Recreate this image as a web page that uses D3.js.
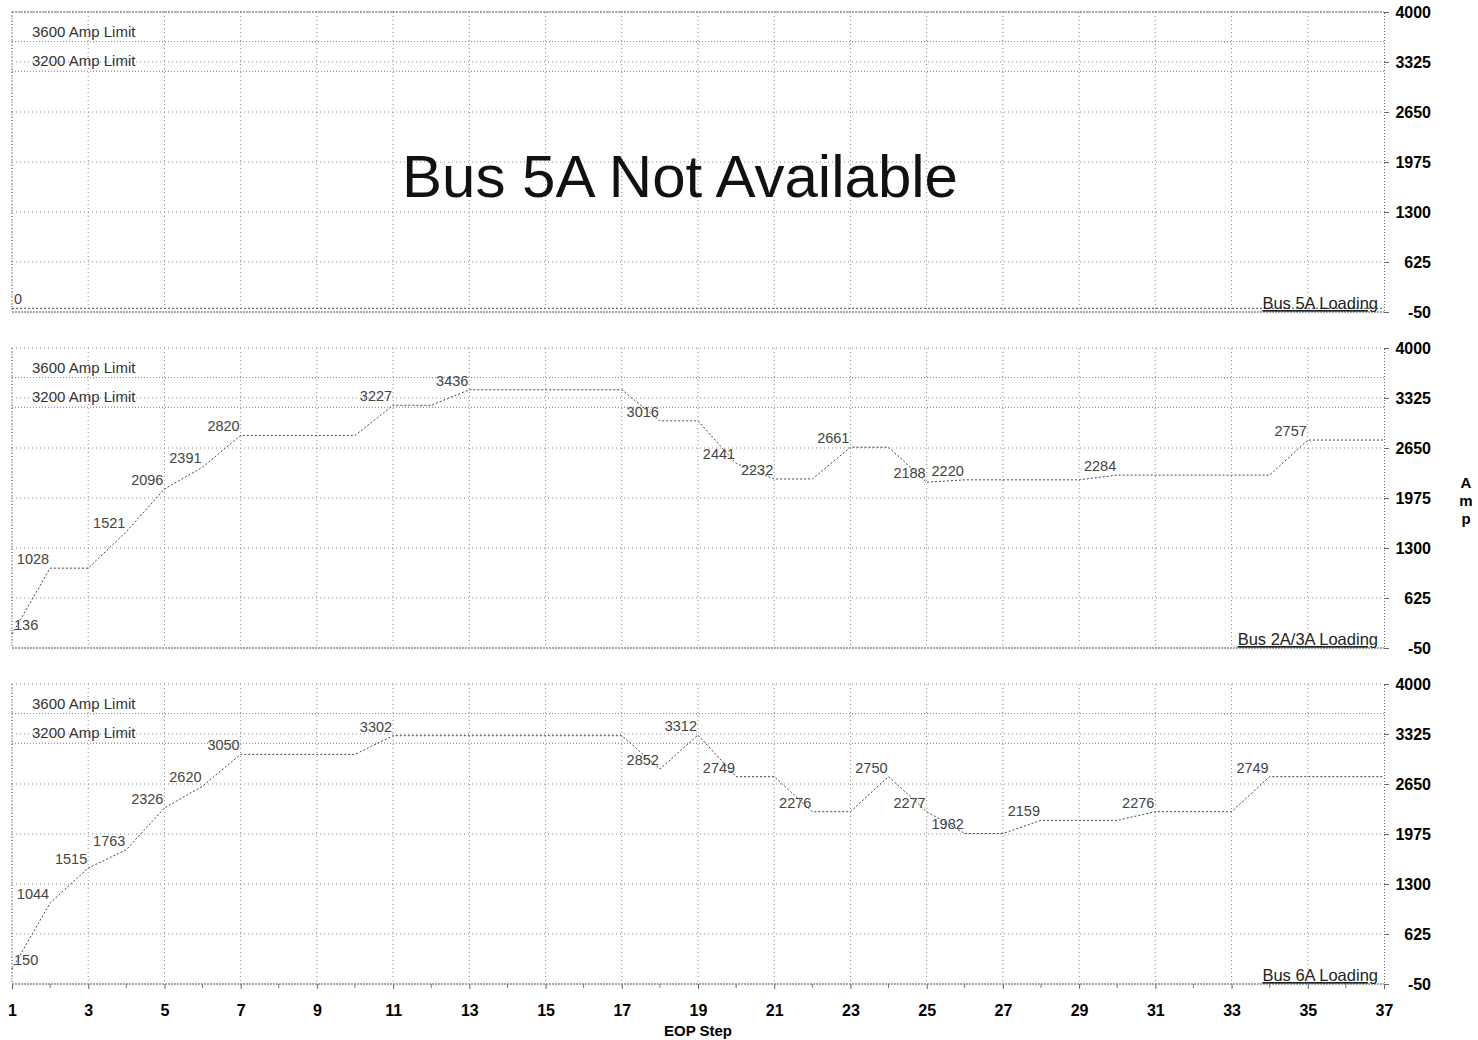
<!DOCTYPE html>
<html>
<head>
<meta charset="utf-8">
<script src="https://cdn.jsdelivr.net/npm/d3@7"></script>
<style>
  html, body { margin: 0; padding: 0; background: #fff; }
  svg { display: block; font-family: "Liberation Sans", Arial, sans-serif; }
</style>
</head>
<body>
<svg id="chart" width="1478" height="1040"></svg>
<script>
// ---------- data ----------
const steps = [1,2,3,4,5,6,7,8,9,10,11,12,13,14,15,16,17,18,19,20,21,22,23,24,25,26,27,28,29,30,31,32,33,34,35,36,37];
const bus5A = [0,0,0,0,0,0,0,0,0,0,0,0,0,0,0,0,0,0,0,0,0,0,0,0,0,0,0,0,0,0,0,0,0,0,0,0,0];
const bus2A3A = [136,1028,1028,1521,2096,2391,2820,2820,2820,2820,3227,3227,3436,3436,3436,3436,3436,3016,3016,2441,2232,2232,2661,2661,2188,2220,2220,2220,2220,2284,2284,2284,2284,2284,2757,2757,2757];
const bus6A = [150,1044,1515,1763,2326,2620,3050,3050,3050,3050,3302,3302,3302,3302,3302,3302,3302,2852,3312,2749,2749,2276,2276,2750,2277,1982,1982,2159,2159,2159,2276,2276,2276,2749,2749,2749,2749];
const yTicks = [-50, 625, 1300, 1975, 2650, 3325, 4000];
const xTicks = [1,3,5,7,9,11,13,15,17,19,21,23,25,27,29,31,33,35,37];
const limits = [3600, 3200];
const limitLabels = ["3600 Amp Limit", "3200 Amp Limit"];
const panelNames = ["Bus 5A Loading", "Bus 2A/3A Loading", "Bus 6A Loading"];
const panelSeries = [bus5A, bus2A3A, bus6A];
const notAvailable = "Bus 5A Not Available";
const xTitle = "EOP Step";
const yTitle = "Amp";

// ---------- layout ----------
const svg = d3.select("#chart");
const left = 12, right = 1384;
const panelTops = [12, 348, 684];
const panelH = 300;
const FF = "'Liberation Sans', Arial, sans-serif";

const x = d3.scaleLinear().domain([1, 37]).range([left, right]);

const gridColor = "#8a8a8a";

panelSeries.forEach((series, pi) => {
  const top = panelTops[pi];
  const y = d3.scaleLinear().domain([-50, 4000]).range([top + panelH, top]);
  const g = svg.append("g");

  // horizontal gridlines
  g.selectAll(".hg").data(yTicks.filter(v => v !== -50)).join("line")
    .attr("x1", left).attr("x2", right)
    .attr("y1", d => y(d)).attr("y2", d => y(d))
    .attr("stroke", gridColor).attr("stroke-width", 1)
    .attr("stroke-dasharray", "1,3");

  // vertical gridlines
  g.selectAll(".vg").data(xTicks.filter(v => v !== 37)).join("line")
    .attr("x1", d => x(d)).attr("x2", d => x(d))
    .attr("y1", top).attr("y2", top + panelH)
    .attr("stroke", gridColor).attr("stroke-width", 1)
    .attr("stroke-dasharray", "1,3");

  // limit lines
  g.selectAll(".lim").data(limits).join("line")
    .attr("x1", left).attr("x2", right)
    .attr("y1", d => y(d)).attr("y2", d => y(d))
    .attr("stroke", "#777").attr("stroke-width", 1)
    .attr("stroke-dasharray", "1,2");

  g.selectAll(".limtxt").data(limits).join("text")
    .attr("x", 32).attr("y", d => y(d) - 5)
    .attr("font-size", 15).attr("fill", "#333")
    .text((d, i) => limitLabels[i]);

  // baseline (-50) darker
  g.append("line")
    .attr("x1", left).attr("x2", right)
    .attr("y1", y(-50)).attr("y2", y(-50))
    .attr("stroke", "#555").attr("stroke-width", 1)
    .attr("stroke-dasharray", "2,1");

  // right axis
  const axis = d3.axisRight(y).tickValues(yTicks).tickSize(5).tickPadding(4).tickFormat(d => String(d));
  const ag = g.append("g").attr("transform", `translate(${right},0)`).call(axis);
  ag.select(".domain").attr("stroke", "#666").attr("stroke-dasharray", "1,2");
  ag.selectAll(".tick line").attr("stroke", "#666");
  ag.selectAll(".tick text")
    .attr("text-anchor", "end").attr("x", 47)
    .attr("font-size", 16).attr("font-weight", "bold").attr("fill", "#000")
    .attr("font-family", FF);

  // left border
  g.append("line")
    .attr("x1", left).attr("x2", left).attr("y1", top).attr("y2", top + panelH)
    .attr("stroke", "#777").attr("stroke-dasharray", "1,2");

  // data line
  const pts = steps.map((s, i) => [s, series[i]]);
  const line = d3.line().x(d => x(d[0])).y(d => y(d[1]));
  g.append("path").datum(pts)
    .attr("d", line).attr("fill", "none")
    .attr("stroke", "#444").attr("stroke-width", 1)
    .attr("stroke-dasharray", "2,2");

  // value labels where value changes
  const labelled = pts.filter((d, i) => i === 0 || d[1] !== series[i - 1]);
  g.selectAll(".vl").data(labelled).join("text")
    .attr("x", d => d[0] === 1 ? x(d[0]) + 2 : x(d[0]) - 1)
    .attr("y", d => y(d[1]) - 4)
    .attr("text-anchor", d => d[0] === 1 ? "start" : "end")
    .attr("font-size", 14.5).attr("fill", "#444")
    .text(d => d[1]);

  // panel name
  g.append("text")
    .attr("x", right - 6).attr("y", y(-50) - 3)
    .attr("text-anchor", "end")
    .attr("font-size", 16.5).attr("fill", "#222")
    .attr("text-decoration", "underline")
    .text(panelNames[pi]);
});

// top border
svg.append("line").attr("x1", left).attr("x2", right).attr("y1", 12).attr("y2", 12)
  .attr("stroke", "#666").attr("stroke-dasharray", "2,1");

// not available message
svg.append("text")
  .attr("x", 680).attr("y", 197)
  .attr("text-anchor", "middle")
  .attr("font-size", 60).attr("fill", "#111")
  .text(notAvailable);

// x axis
const xb = panelTops[2] + panelH;
const xAxis = d3.axisBottom(x).tickValues(xTicks).tickSize(5).tickPadding(16).tickFormat(d => String(d));
const xg = svg.append("g").attr("transform", `translate(0,${xb})`).call(xAxis);
xg.select(".domain").remove();
xg.selectAll(".tick line").attr("stroke", "#666");
xg.selectAll(".tick text").attr("font-size", 16).attr("font-weight", "bold").attr("fill", "#000")
  .attr("font-family", FF);
// minor ticks every step
svg.append("g").selectAll("line").data(steps.filter(s => s % 2 === 0)).join("line")
  .attr("x1", d => x(d)).attr("x2", d => x(d)).attr("y1", xb).attr("y2", xb + 4)
  .attr("stroke", "#777");

svg.append("text")
  .attr("x", 698).attr("y", 1036)
  .attr("text-anchor", "middle")
  .attr("font-size", 15).attr("font-weight", "bold")
  .text(xTitle);

// y title (stacked letters)
svg.append("g").selectAll("text").data(yTitle.split("")).join("text")
  .attr("x", 1466).attr("y", (d, i) => 488 + i * 18)
  .attr("text-anchor", "middle")
  .attr("font-size", 15).attr("font-weight", "bold")
  .text(d => d);
</script>
</body>
</html>
